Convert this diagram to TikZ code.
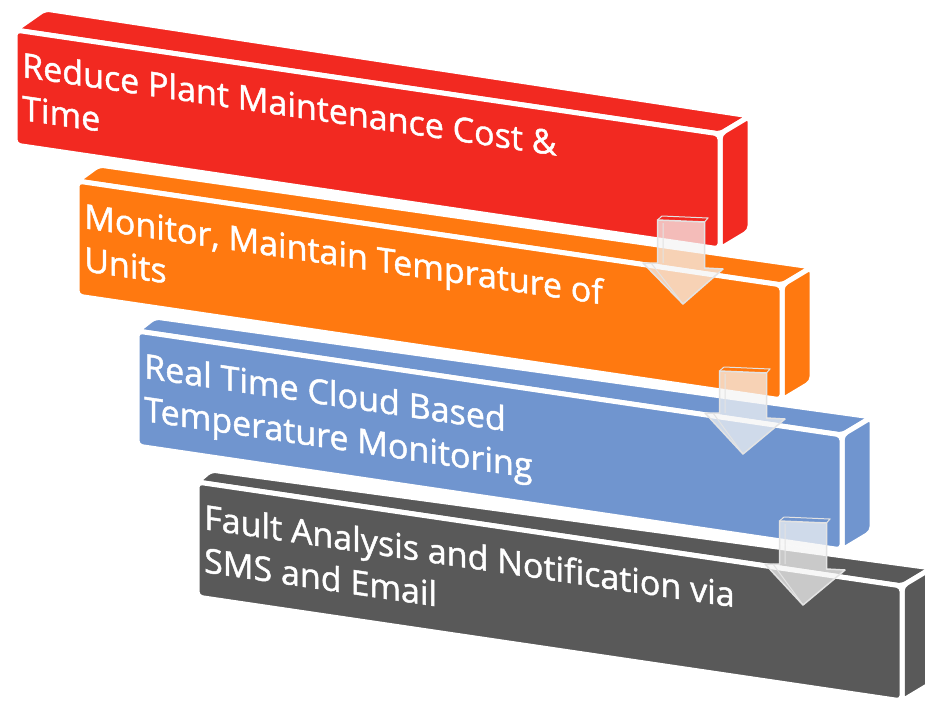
\documentclass[tikz,border=0pt]{standalone}
\usepackage{fontspec}
\newfontfamily\stepfont{Open Sans}[FakeBold=1.3]
\usetikzlibrary{calc}
\definecolor{redface}{RGB}{242,41,33}
\definecolor{orangeface}{RGB}{255,121,16}
\definecolor{blueface}{RGB}{112,149,207}
\definecolor{grayface}{RGB}{89,89,89}
\tikzstyle{face} = [draw=white, line width=5pt, line join=round, rounded corners=5pt]
\tikzstyle{caption} = [anchor=north west, yslant=-0.147, transform shape, text=white, align=left, inner sep=0pt, font=\stepfont\fontsize{34}{43}\selectfont]
\tikzstyle{stepArrow} = [fill=gray!8, fill opacity=0.72, draw=gray!22, line width=1.5pt, line join=round]
\tikzstyle{arrowEdge} = [draw=gray!22, line width=1pt]

\begin{document}
\begin{tikzpicture}[x=1pt, y=-1pt]
    \useasboundingbox (0,0) rectangle (925,702);

    % Steps, from the bottom one up.
    \foreach \i/\px/\py/\dx/\dy/\c/\t in {
        4/197/482/14/-12/grayface/{Fault Analysis and Notification via\\SMS and Email},
        3/137/331/18/-14/blueface/{Real Time Cloud Based\\Temperature Monitoring},
        2/77/181/22/-16/orangeface/{Monitor, Maintain Temprature of\\Units},
        1/15/30/30/-21/redface/{Reduce Plant Maintenance Cost \&\\Time}} {
        \coordinate (tl\i) at (\px,\py);
        \coordinate (tr\i) at (\px+705,\py+104);
        \coordinate (br\i) at (\px+705,\py+219);
        \coordinate (bl\i) at (\px,\py+115);
        \filldraw [face, fill=\c] (tl\i) -- (tr\i) -- ($(tr\i)+(30,-18)$) -- ($(tl\i)+(\dx,\dy)$) -- cycle;
        \filldraw [face, fill=\c] (tr\i) -- (br\i) -- ($(br\i)+(30,-18)$) -- ($(tr\i)+(30,-18)$) -- cycle;
        \filldraw [face, fill=\c] (tl\i) -- (tr\i) -- (br\i) -- (bl\i) -- cycle;
        \node (label\i) [caption] at ($(tl\i)+(7,21)$) {\t};
        \coordinate (src\i) at ($(tr\i)+(-39,86)$);
        \coordinate (tip\i) at ($(tr\i)+(-99,19)$);
    }

    % Arrows.
    \foreach \i/\j in {1/2, 2/3, 3/4} {
        \draw [stepArrow] let \p1 = (src\i), \p2 = (tip\j) in
            (\x1-23.5pt,\y1) -- (\x1+23.5pt,\y1-2pt) -- (\x1+23.5pt,\y2+36pt)
            -- (\x1+42pt,\y2+35pt) -- (\x2,\y2) -- (\x1-38pt,\y2+41pt)
            -- (\x1-23.5pt,\y2+41pt) -- cycle;
        \draw [arrowEdge] let \p1 = (src\i), \p2 = (tip\j) in
            (\x1-23.5pt,\y1) -- (\x1-19pt,\y1+4pt) -- (\x1+27pt,\y1+2pt) -- (\x1+23.5pt,\y1-2pt)
            (\x1-18pt,\y1-3pt) -- (\x1-18pt,\y2+41pt)
            (\x1-30pt,\y2+41pt) -- (\x2,\y2);
    }
\end{tikzpicture}
\end{document}
